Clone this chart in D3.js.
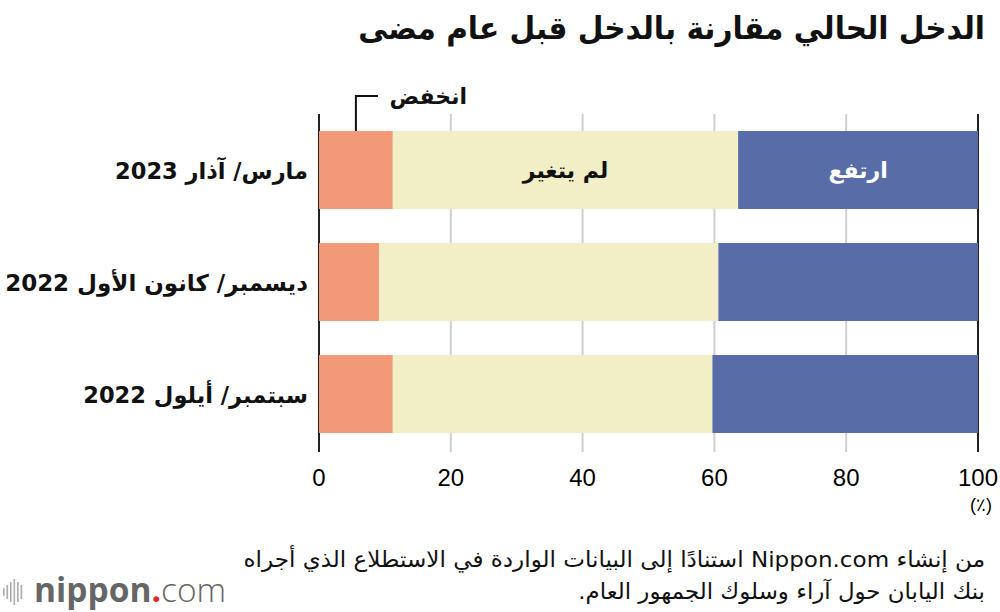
<!DOCTYPE html>
<html><head><meta charset="utf-8">
<script src="https://cdn.jsdelivr.net/npm/d3@7"></script>
<style>body{margin:0;background:#fff}svg{display:block}</style>
</head><body>
<svg id="c" width="1000" height="612"></svg>
<script>
const categories = ["مارس/ آذار 2023", "ديسمبر/ كانون الأول 2022", "سبتمبر/ أيلول 2022"];
const seriesNames = ["انخفض", "لم يتغير", "ارتفع"];
const decreased = [11.2, 9.1, 11.2];
const unchanged = [52.4, 51.5, 48.5];
const increased = [36.4, 39.4, 40.3];
const tickValues = [0, 20, 40, 60, 80, 100];
const colors = ["#F29A78", "#F2EEC6", "#586CA8"];

const svg = d3.select("#c");
const AR = "'DejaVu Sans', 'Noto Sans', sans-serif";
const NUM = "'Liberation Sans', Arial, sans-serif";

const x = d3.scaleLinear().domain([0, 100]).range([319, 978]);
const y = d3.scaleBand().domain(categories).range([114, 450]).paddingInner(0.304).paddingOuter(0.152);

function rtext(sel) {
  return sel.attr("direction", "rtl").attr("text-anchor", "start").attr("font-family", AR);
}
// horizontally fit a right-anchored text to a target width
function fitRight(node, anchorX, target) {
  const w = node.getComputedTextLength();
  const s = target / w;
  d3.select(node).attr("transform", `translate(${anchorX},0) scale(${s},1) translate(${-anchorX},0)`);
}

// title
const title = rtext(svg.append("text")).attr("x", 985).attr("y", 39)
  .attr("font-weight", "bold").attr("font-size", 31).attr("fill", "#111")
  .text("الدخل الحالي مقارنة بالدخل قبل عام مضى");
fitRight(title.node(), 985, 627);

// grid
svg.append("g").selectAll("line").data(tickValues.filter(d => d > 0 && d < 100)).join("line")
  .attr("x1", d => x(d)).attr("x2", d => x(d)).attr("y1", 114).attr("y2", 452)
  .attr("stroke", "#cfcfcf").attr("stroke-width", 2);
svg.append("g").selectAll("line").data([0, 100]).join("line")
  .attr("x1", d => x(d)).attr("x2", d => x(d)).attr("y1", 114).attr("y2", 452)
  .attr("stroke", "#222").attr("stroke-width", 2);

// stacked bars
const rows = categories.map((c, i) => ({cat: c, v: [decreased[i], unchanged[i], increased[i]]}));
rows.forEach(r => {
  let acc = 0;
  r.v.forEach((v, j) => {
    svg.append("rect").attr("x", x(acc)).attr("y", y(r.cat))
      .attr("width", x(acc + v) - x(acc)).attr("height", y.bandwidth())
      .attr("fill", colors[j]);
    acc += v;
  });
});

// category labels
const catWidths = [193, 303, 225];
rtext(svg.append("g").selectAll("text").data(categories).join("text"))
  .attr("x", 308).attr("y", d => y(d) + y.bandwidth() / 2 + 9)
  .attr("font-weight", "bold").attr("font-size", 23)
  .attr("fill", "#111").text(d => d)
  .each(function(d, i) { fitRight(this, 308, catWidths[i]); });

// in-bar labels (first row)
const r0 = rows[0];
svg.append("text").attr("x", x(r0.v[0] + r0.v[1] / 2)).attr("y", y(categories[0]) + y.bandwidth() / 2 + 8)
  .attr("text-anchor", "middle").attr("direction", "rtl").attr("font-family", AR)
  .attr("font-weight", "bold").attr("font-size", 22).attr("fill", "#111").text(seriesNames[1]);
svg.append("text").attr("x", x(r0.v[0] + r0.v[1] + r0.v[2] / 2)).attr("y", y(categories[0]) + y.bandwidth() / 2 + 8)
  .attr("text-anchor", "middle").attr("direction", "rtl").attr("font-family", AR)
  .attr("font-weight", "bold").attr("font-size", 22).attr("fill", "#fff").text(seriesNames[2]);

// callout for decreased
const cx = x(r0.v[0] / 2);
svg.append("path").attr("d", `M${cx},${y(categories[0])} V96 H378`).attr("fill", "none")
  .attr("stroke", "#111").attr("stroke-width", 2);
rtext(svg.append("text")).attr("x", 467).attr("y", 104)
  .attr("font-weight", "bold").attr("font-size", 22).attr("fill", "#111")
  .text(seriesNames[0]);

// x axis labels
svg.append("g").selectAll("text").data(tickValues).join("text")
  .attr("x", d => x(d)).attr("y", 486).attr("text-anchor", "middle")
  .attr("font-family", NUM).attr("font-size", 24).attr("fill", "#000").text(d => d);
svg.append("text").attr("x", 981).attr("y", 511).attr("text-anchor", "middle")
  .attr("font-family", NUM).attr("font-size", 18).attr("fill", "#000").text("(٪)");

// footer
const f1 = rtext(svg.append("text")).attr("x", 985).attr("y", 567)
  .attr("font-size", 22).attr("fill", "#111")
  .text("من إنشاء Nippon.com استنادًا إلى البيانات الواردة في الاستطلاع الذي أجراه");
fitRight(f1.node(), 985, 742);
const f2 = rtext(svg.append("text")).attr("x", 985).attr("y", 599)
  .attr("font-size", 22).attr("fill", "#111")
  .text("بنك اليابان حول آراء وسلوك الجمهور العام.");
fitRight(f2.node(), 985, 407);

// logo
const logo = svg.append("g");
const barsH = [8, 14, 20, 26, 20, 14];
barsH.forEach((h, i) => {
  logo.append("rect").attr("x", 3 + i * 3.5).attr("y", 592 - h / 2).attr("width", 1.6).attr("height", h).attr("fill", "#aaa");
});
const lt = logo.append("text").attr("x", 34).attr("y", 602).attr("font-family", "'Open Sans', 'DejaVu Sans', sans-serif")
  .attr("font-size", 33.5).attr("fill", "#666");
lt.append("tspan").attr("font-weight", "bold").text("nippon");
lt.append("tspan").attr("fill", "#e3262b").attr("font-weight", "bold").text(".");
lt.append("tspan").attr("font-weight", "300").text("com");
</script>
</body></html>
